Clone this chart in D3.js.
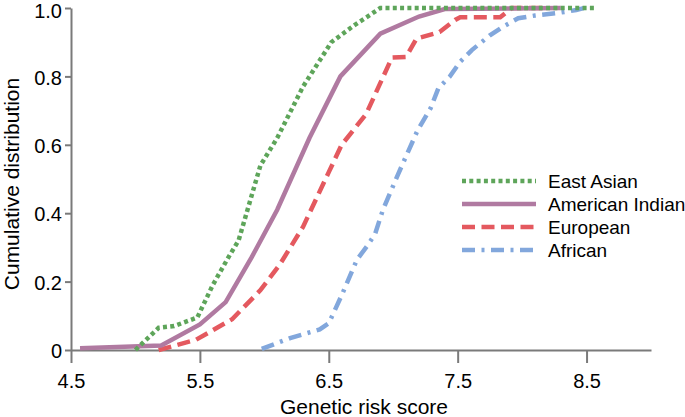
<!DOCTYPE html>
<html>
<head>
<meta charset="utf-8">
<script src="https://cdn.jsdelivr.net/npm/d3@7"></script>
<style>
  body { margin: 0; background: #fff; }
  text { font-family: "Liberation Sans", Arial, sans-serif; }
</style>
</head>
<body>
<div id="chart"></div>
<script>
const width = 685;
const height = 417;
const margin = { top: 8, right: 34, bottom: 67, left: 71 };

// series: [genetic risk score, cumulative fraction]
const eastAsian = [
  [5.0, 0], [5.18, 0.065], [5.3, 0.07], [5.48, 0.095], [5.6, 0.19],
  [5.72, 0.27], [5.8, 0.32], [5.97, 0.54], [6.1, 0.62], [6.3, 0.77],
  [6.52, 0.9], [6.7, 0.95], [6.9, 1.0], [8.57, 1.0],
];
const americanIndian = [
  [4.57, 0.005], [5.2, 0.013], [5.5, 0.075], [5.7, 0.14], [5.9, 0.27],
  [6.1, 0.41], [6.35, 0.62], [6.59, 0.8], [6.9, 0.925], [7.2, 0.975],
  [7.4, 0.997], [8.3, 1.0],
];
const european = [
  [5.18, 0], [5.47, 0.03], [5.75, 0.09], [5.97, 0.175], [6.12, 0.25],
  [6.3, 0.36], [6.5, 0.52], [6.6, 0.6], [6.79, 0.69], [6.99, 0.855],
  [7.1, 0.857], [7.18, 0.91], [7.36, 0.93], [7.48, 0.965], [7.52, 0.973],
  [7.83, 0.973], [7.92, 1.0], [8.2, 1.0],
];
const african = [
  [5.98, 0.003], [6.2, 0.035], [6.43, 0.06], [6.5, 0.078], [6.6, 0.16],
  [6.72, 0.265], [6.8, 0.305], [6.86, 0.34], [6.92, 0.41], [7.04, 0.516],
  [7.19, 0.643], [7.29, 0.707], [7.35, 0.765], [7.44, 0.8], [7.52, 0.843],
  [7.61, 0.877], [7.75, 0.92], [7.85, 0.945], [7.97, 0.97], [8.1, 0.978],
  [8.27, 0.985], [8.42, 0.994], [8.48, 1.0],
];

const xTicks = [4.5, 5.5, 6.5, 7.5, 8.5];
const yTicks = [0, 0.2, 0.4, 0.6, 0.8, 1.0];

const series = [
  { name: "East Asian", values: eastAsian, color: "#5ea55a", dash: "4,3.3" },
  { name: "American Indian", values: americanIndian, color: "#b07aa1", dash: null },
  { name: "European", values: european, color: "#e4595f", dash: "13,6.5" },
  { name: "African", values: african, color: "#82a7dc", dash: "13,6.5,3,6.5" },
];

const x = d3.scaleLinear()
  .domain([4.5, 9.0])
  .range([margin.left, width - margin.right]);

const y = d3.scaleLinear()
  .domain([0, 1])
  .range([height - margin.bottom, margin.top]);

const svg = d3.select("#chart")
  .append("svg")
  .attr("width", width)
  .attr("height", height);

// x axis
const xAxis = svg.append("g")
  .attr("transform", `translate(0,${height - margin.bottom})`)
  .call(d3.axisBottom(x).tickValues(xTicks).tickFormat(d3.format(".1f"))
    .tickSize(13).tickSizeOuter(0).tickPadding(11));

// y axis
const yAxis = svg.append("g")
  .attr("transform", `translate(${margin.left},0)`)
  .call(d3.axisLeft(y).tickValues(yTicks)
    .tickFormat((d) => (d === 0 ? "0" : d3.format(".1f")(d)))
    .tickSize(6).tickSizeOuter(0).tickPadding(3));

[xAxis, yAxis].forEach((g) => {
  g.selectAll("path, line").attr("stroke", "#7a7a7a").attr("stroke-width", 2);
  g.selectAll("text").attr("font-size", "20px").attr("fill", "#000");
});
// keep the top label inside the frame, as in the original
yAxis.selectAll("text").attr("dy", (d) => (d === 1 ? "0.48em" : "0.38em"));

// lines (drawn back to front)
const line = d3.line()
  .x((d) => x(d[0]))
  .y((d) => y(d[1]));

svg.append("g")
  .selectAll("path")
  .data(series.slice().reverse())
  .join("path")
  .attr("d", (d) => line(d.values))
  .attr("fill", "none")
  .attr("stroke", (d) => d.color)
  .attr("stroke-width", 4.5)
  .attr("stroke-dasharray", (d) => d.dash);

// legend
const legend = svg.selectAll(".legend")
  .data(series)
  .enter()
  .append("g")
  .attr("class", "legend")
  .attr("transform", (d, i) => `translate(462,${181 + i * 23})`);

legend.append("line")
  .attr("x1", 0)
  .attr("x2", 74)
  .attr("stroke", (d) => d.color)
  .attr("stroke-width", 4.5)
  .attr("stroke-dasharray", (d) => d.dash);

legend.append("text")
  .attr("x", 86)
  .attr("dy", "0.35em")
  .attr("font-size", "19px")
  .text((d) => d.name);

// axis titles
svg.append("text")
  .attr("x", (margin.left + width - margin.right) / 2 + 3)
  .attr("y", 414)
  .attr("text-anchor", "middle")
  .attr("font-size", "21px")
  .text("Genetic risk score");

svg.append("text")
  .attr("transform", `translate(19,${(margin.top + height - margin.bottom) / 2 + 5}) rotate(-90)`)
  .attr("text-anchor", "middle")
  .attr("font-size", "21px")
  .text("Cumulative distribution");
</script>
</body>
</html>
